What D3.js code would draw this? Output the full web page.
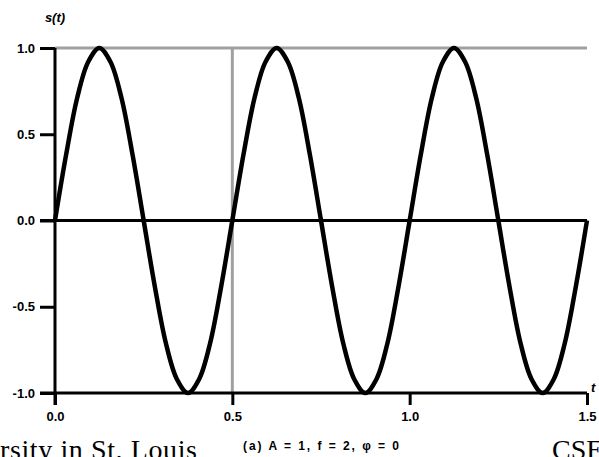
<!DOCTYPE html>
<html><head><meta charset="utf-8">
<script src="https://cdn.jsdelivr.net/npm/d3@7"></script>
<style>body{margin:0;background:#fff}svg{display:block}</style>
</head><body>
<svg id="c" width="599" height="457"></svg>
<script>
const tValues = [0,0.03125,0.0625,0.09375,0.125,0.15625,0.1875,0.21875,0.25,0.28125,0.3125,0.34375,0.375,0.40625,0.4375,0.46875,
0.5,0.53125,0.5625,0.59375,0.625,0.65625,0.6875,0.71875,0.75,0.78125,0.8125,0.84375,0.875,0.90625,0.9375,0.96875,
1.0,1.03125,1.0625,1.09375,1.125,1.15625,1.1875,1.21875,1.25,1.28125,1.3125,1.34375,1.375,1.40625,1.4375,1.46875,1.5];
const sValues = [0,0.38,0.71,0.92,1,0.92,0.71,0.38,0,-0.38,-0.71,-0.92,-1,-0.92,-0.71,-0.38,
0,0.38,0.71,0.92,1,0.92,0.71,0.38,0,-0.38,-0.71,-0.92,-1,-0.92,-0.71,-0.38,
0,0.38,0.71,0.92,1,0.92,0.71,0.38,0,-0.38,-0.71,-0.92,-1,-0.92,-0.71,-0.38,0];
const xTicks = [0, 0.5, 1.0, 1.5];
const yTicks = [-1.0, -0.5, 0, 0.5, 1.0];
const xTickLabels = ["0.0","0.5","1.0","1.5"];
const yTickLabels = ["-1.0","-0.5","0.0","0.5","1.0"];
const caption = "(a) A = 1, f = 2, φ = 0";

const svg = d3.select("#c");
const x = d3.scaleLinear().domain([0,1.5]).range([55,587]);
const y = d3.scaleLinear().domain([-1,1]).range([393,48]);
const labFont = "'Liberation Sans', Arial, sans-serif";

// grid (gray)
svg.append("line").attr("x1",x(0)).attr("x2",x(1.5)).attr("y1",y(1)).attr("y2",y(1))
  .attr("stroke","#a0a0a0").attr("stroke-width",3);
svg.append("line").attr("x1",x(0.5)).attr("x2",x(0.5)).attr("y1",y(1)).attr("y2",y(-1))
  .attr("stroke","#a0a0a0").attr("stroke-width",3);

// y axis
const ya = svg.append("g").attr("transform",`translate(${x(0)},0)`)
  .call(d3.axisLeft(y).tickValues(yTicks).tickSize(15).tickPadding(5)
    .tickFormat((d,i)=>yTickLabels[i]));
ya.select(".domain").remove();
ya.selectAll(".tick line").attr("stroke","#000").attr("stroke-width",3);
ya.selectAll(".tick text").attr("font-family",labFont).attr("font-weight","bold")
  .attr("font-size",13).attr("fill","#000");

// x axis
const xa = svg.append("g").attr("transform",`translate(0,${y(-1)})`)
  .call(d3.axisBottom(x).tickValues(xTicks).tickSize(12).tickPadding(7)
    .tickFormat((d,i)=>xTickLabels[i]));
xa.select(".domain").remove();
xa.selectAll(".tick line").attr("stroke","#000").attr("stroke-width",3);
xa.selectAll(".tick text").attr("font-family",labFont).attr("font-weight","bold")
  .attr("font-size",13).attr("fill","#000");

// black axis lines
svg.append("line").attr("x1",x(0)).attr("x2",x(0)).attr("y1",y(1)).attr("y2",y(-1)+12)
  .attr("stroke","#000").attr("stroke-width",3);
svg.append("line").attr("x1",40).attr("x2",x(1.5)).attr("y1",y(0)).attr("y2",y(0))
  .attr("stroke","#000").attr("stroke-width",3);
svg.append("line").attr("x1",40).attr("x2",x(1.5)).attr("y1",y(-1)).attr("y2",y(-1))
  .attr("stroke","#000").attr("stroke-width",3);

// curve
const pts = tValues.map((t,i)=>[t,sValues[i]]);
const line = d3.line().x(d=>x(d[0])).y(d=>y(d[1])).curve(d3.curveCatmullRom.alpha(0.5));
svg.append("path").datum(pts).attr("d", line)
  .attr("fill","none").attr("stroke","#000").attr("stroke-width",4.5).attr("stroke-linejoin","round");

// labels
svg.append("text").attr("x",55).attr("y",22).attr("text-anchor","middle")
  .attr("font-family",labFont).attr("font-weight","bold").attr("font-style","italic")
  .attr("font-size",13).text("s(t)");
svg.append("text").attr("x",591).attr("y",392)
  .attr("font-family",labFont).attr("font-weight","bold").attr("font-style","italic")
  .attr("font-size",13).text("t");
svg.append("text").attr("x",243).attr("y",450)
  .attr("font-family",labFont).attr("font-weight","bold")
  .attr("font-size",12).attr("textLength",156).text(caption);

// footer
svg.append("text").attr("x",0).attr("y",459)
  .attr("font-family","'Liberation Serif', 'Times New Roman', serif")
  .attr("font-size",28).attr("textLength",197).text("rsity in St. Louis");
svg.append("text").attr("x",552).attr("y",459)
  .attr("font-family","'Liberation Serif', 'Times New Roman', serif")
  .attr("font-size",28).text("CSE");
</script>
</body></html>
